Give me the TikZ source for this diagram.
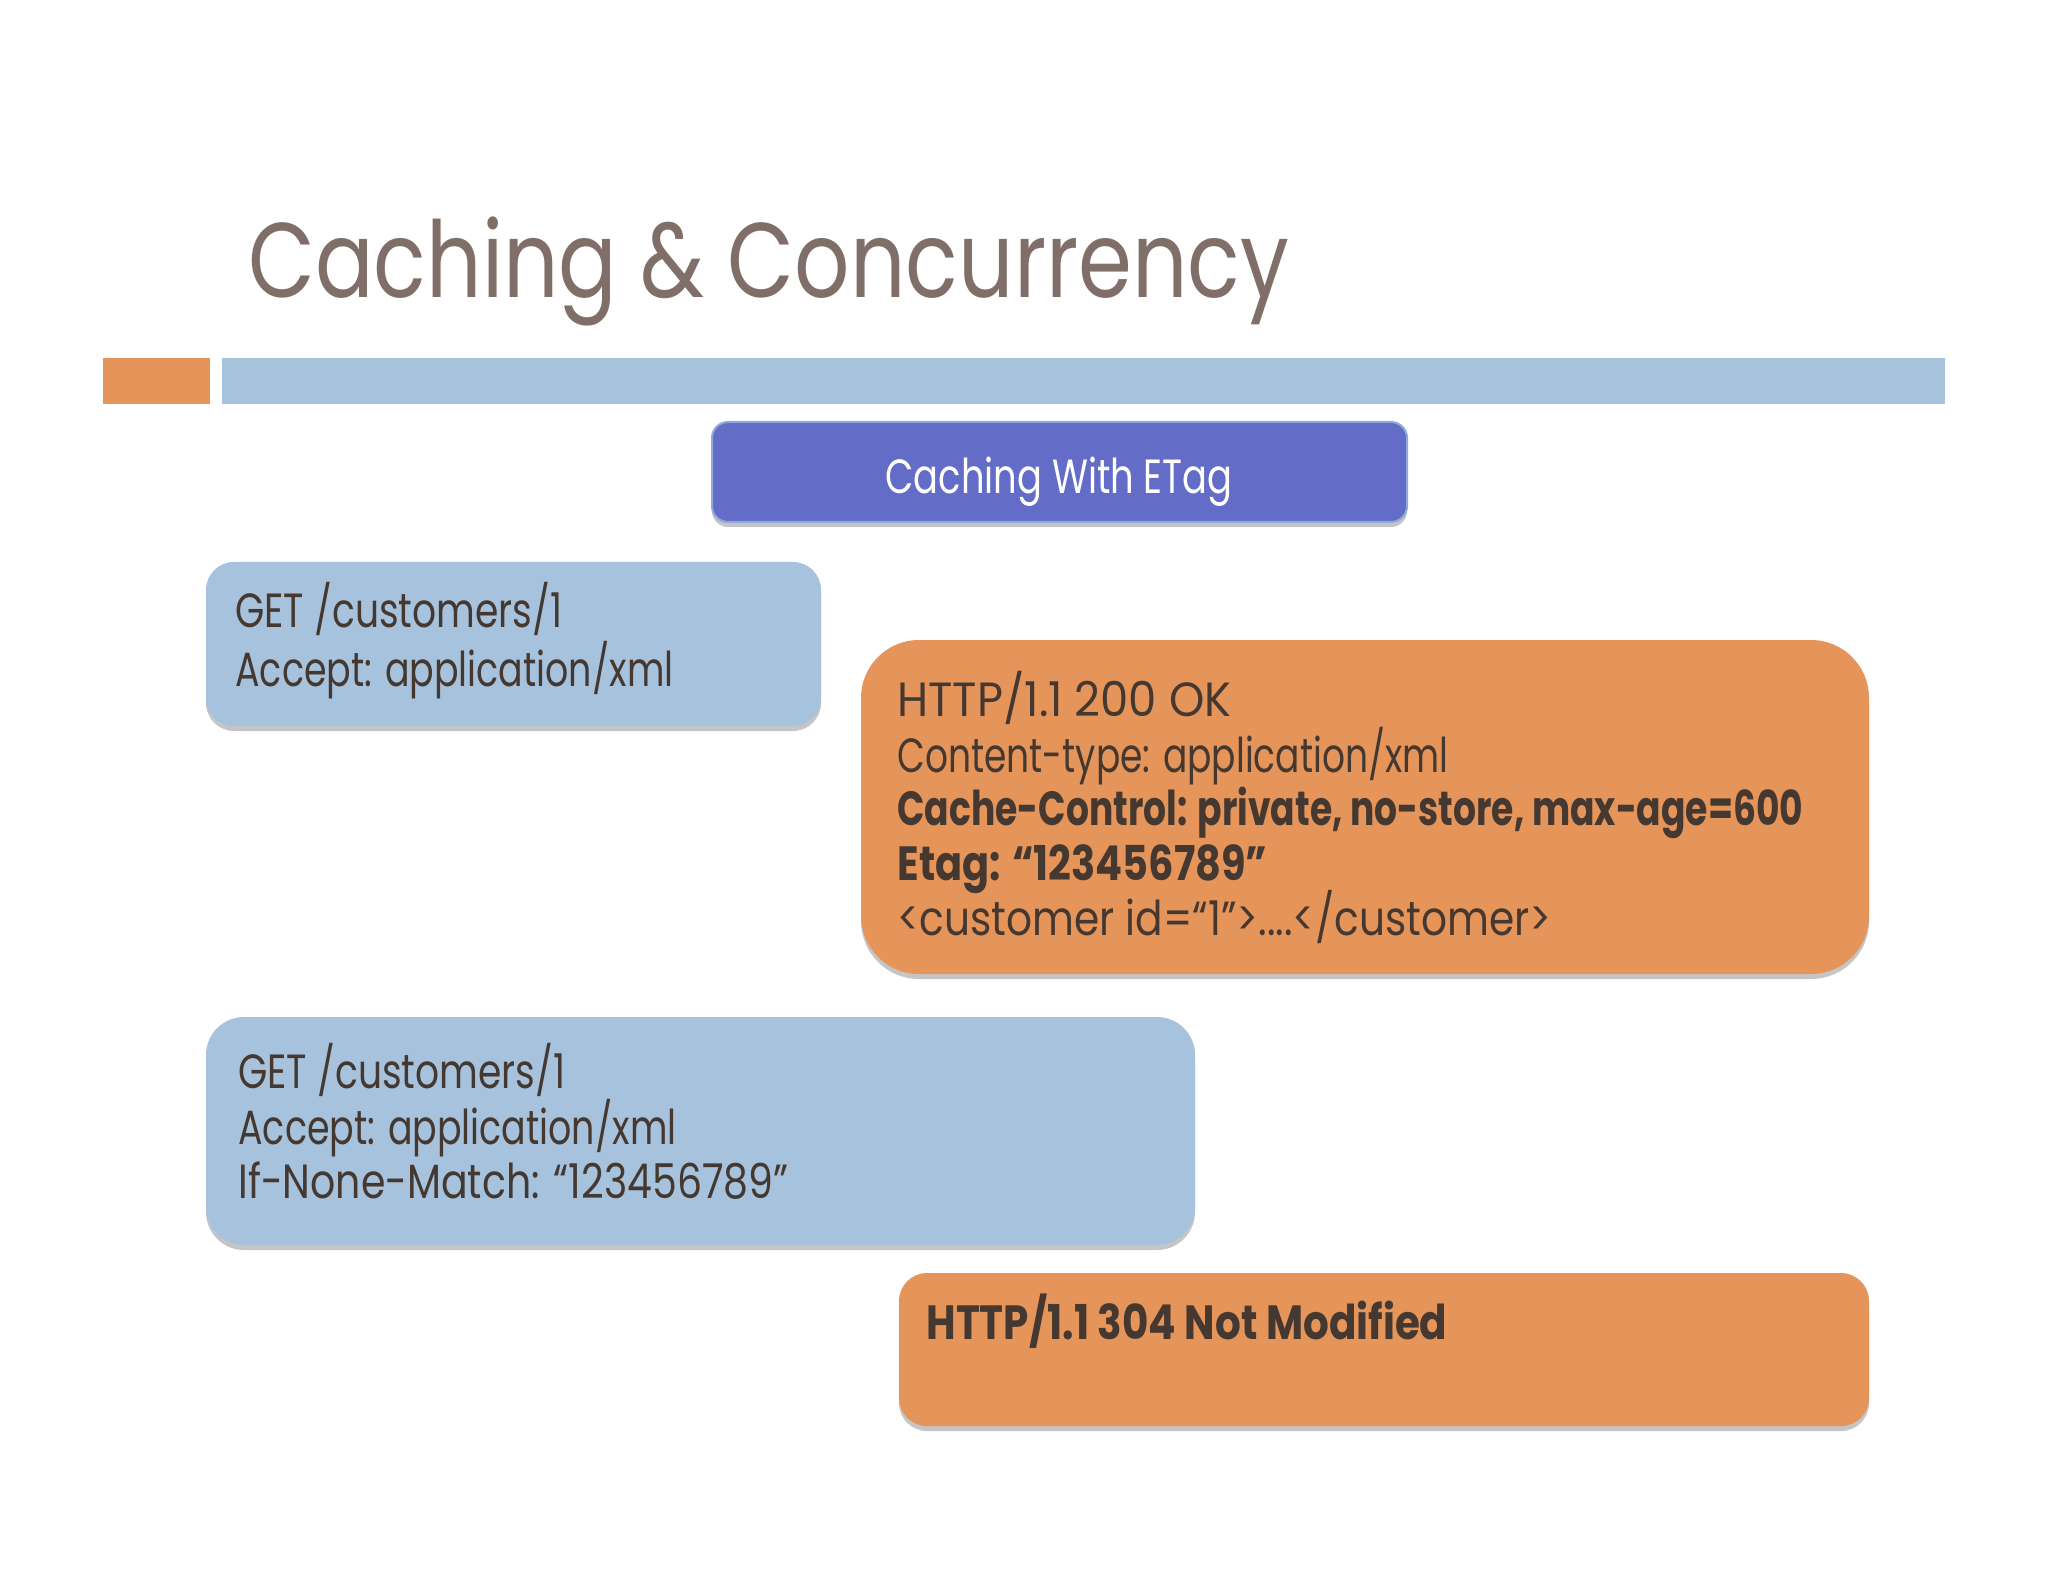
\documentclass[tikz,border=0pt]{standalone}
\usepackage{fontspec}
\setmainfont{Poppins}
\usetikzlibrary{shadows}
\definecolor{titlecol}{RGB}{127,111,104}
\definecolor{orangefill}{RGB}{229,148,90}
\definecolor{bluefill}{RGB}{166,194,220}
\definecolor{headblue}{RGB}{99,108,198}
\definecolor{headedge}{RGB}{142,170,220}
\definecolor{txt}{RGB}{68,56,48}
\newlength\pxu \setlength\pxu{0.5pt}
\newcommand\fitw[2]{\resizebox{#1\pxu}{\height}{#2}}
\tikzset{
  shadowed/.style={drop shadow={shadow xshift=0pt, shadow yshift=-2.5pt, opacity=0.3, fill=black!75}},
  msgbox/.style={shadowed, anchor=north west, inner sep=0pt, outer sep=0pt},
  bluebox/.style={msgbox, fill=bluefill},
  orangebox/.style={msgbox, fill=orangefill},
  line/.style={anchor=base west, inner sep=0pt, text=txt, font=\fontsize{24}{28}\selectfont},
}
\begin{document}
\begin{tikzpicture}[x=0.5pt,y=-0.5pt]
\fill[white] (0,0) rectangle (2048,1582);
\useasboundingbox (0,0) rectangle (2048,1582);

% title
\node[anchor=base west, inner sep=0pt, text=titlecol, font=\fontsize{53}{58}\selectfont] (title) at (248,298) {\fitw{1041}{Caching \& Concurrency}};

% bars
\fill[orangefill] (103,358) rectangle (210,404);
\fill[bluefill] (222,358) rectangle (1945,404);

% header box
\node[msgbox, fill=headblue, draw=headedge, line width=1pt, rounded corners=8pt, minimum width=347.5pt, minimum height=50pt] (head) at (712,422) {};
\node[anchor=base, inner sep=0pt, text=white, font=\fontsize{24}{28}\selectfont] (headtxt) at (1059,494) {\fitw{347}{Caching With ETag}};

% request 1
\node[bluebox, rounded corners=14pt, minimum width=307.5pt, minimum height=82pt] (req1) at (206,562) {};
\node[line] (r1a) at (235,628) {\fitw{327}{GET /customers/1}};
\node[line] (r1b) at (235,686) {\fitw{438}{Accept: application/xml}};

% response 1
\node[orangebox, rounded corners=29pt, minimum width=504pt, minimum height=167pt] (resp1) at (861,640) {};
\node[line] (s1a) at (897,716) {\fitw{334}{HTTP/1.1 200 OK}};
\node[line] (s1b) at (897,772) {\fitw{551}{Content-type: application/xml}};
\node[line] (s1c) at (897,825) {\fitw{906}{\bfseries Cache-Control: private, no-store, max-age=600}};
\node[line] (s1d) at (897,880) {\fitw{370}{\bfseries Etag: “123456789”}};
\node[line] (s1e) at (897,935) {\fitw{654}{<customer id=“1”>....</customer>}};

% request 2
\node[bluebox, rounded corners=19pt, minimum width=494.5pt, minimum height=114pt] (req2) at (206,1017) {};
\node[line] (r2a) at (238,1088) {\fitw{327}{GET /customers/1}};
\node[line] (r2b) at (238,1144) {\fitw{438}{Accept: application/xml}};
\node[line] (r2c) at (238,1198) {\fitw{550}{If-None-Match: “123456789”}};

% response 2
\node[orangebox, rounded corners=14pt, minimum width=485pt, minimum height=76.5pt] (resp2) at (899,1273) {};
\node[line] (s2a) at (926,1339) {\fitw{521}{\bfseries HTTP/1.1 304 Not Modified}};
\end{tikzpicture}
\end{document}
